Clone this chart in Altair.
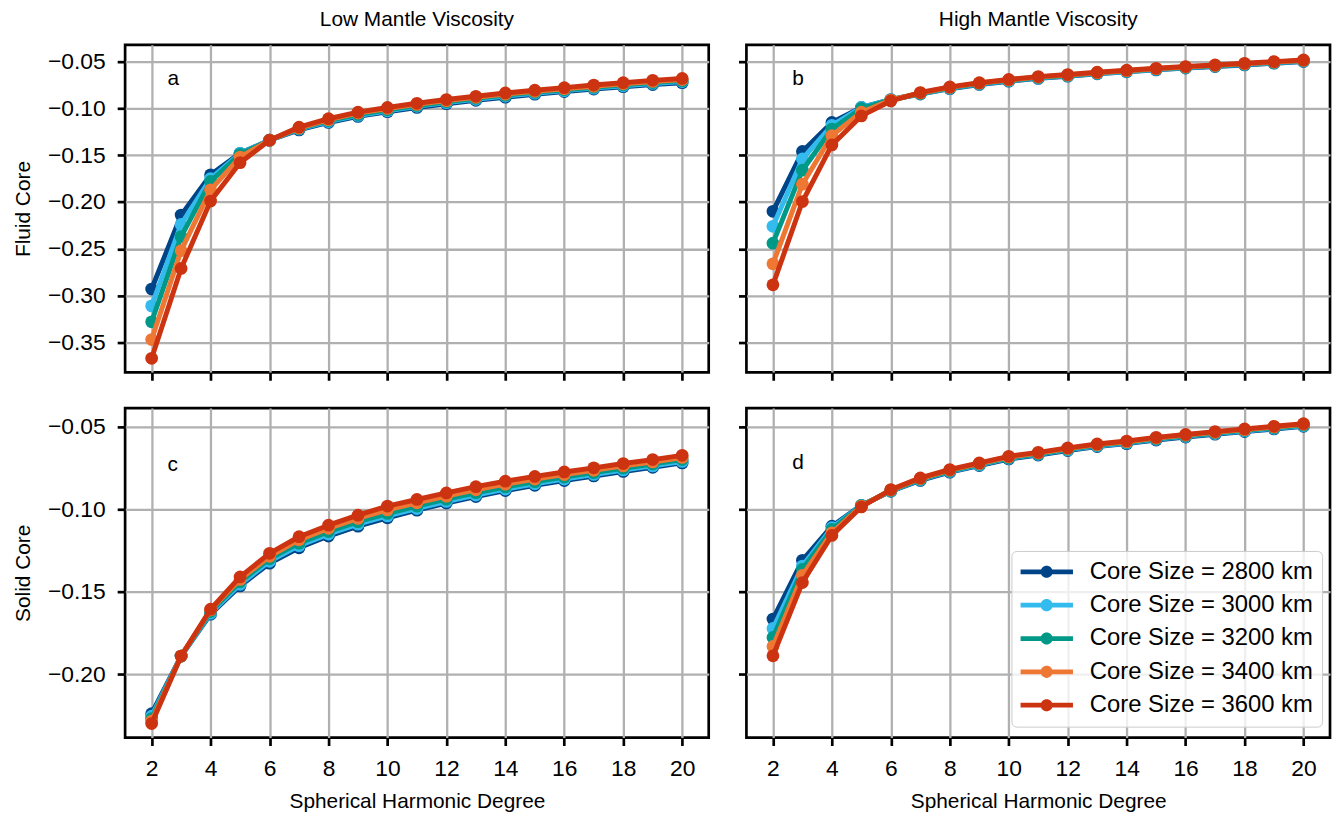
import altair as alt
import pandas as pd

degrees = [2, 3, 4, 5, 6, 7, 8, 9, 10, 11, 12, 13, 14, 15, 16, 17, 18, 19, 20]
x_ticks = [2, 4, 6, 8, 10, 12, 14, 16, 18, 20]
core_labels = ["Core Size = 2800 km", "Core Size = 3000 km", "Core Size = 3200 km",
               "Core Size = 3400 km", "Core Size = 3600 km"]
colors = ["#004488", "#33BBEE", "#009988", "#EE7733", "#CC3311"]

# Panel a: Low mantle viscosity, fluid core
a_2800 = [-0.293, -0.214, -0.171, -0.148, -0.134, -0.123, -0.115, -0.1085, -0.1035, -0.099, -0.095, -0.0913, -0.088, -0.0848, -0.082, -0.0793, -0.0768, -0.0745, -0.0725]
a_3000 = [-0.311, -0.224, -0.175, -0.148, -0.134, -0.122, -0.114, -0.1075, -0.1025, -0.0978, -0.0938, -0.0902, -0.0868, -0.0837, -0.081, -0.0783, -0.0758, -0.0733, -0.0713]
a_3200 = [-0.328, -0.237, -0.178, -0.149, -0.134, -0.1215, -0.113, -0.1065, -0.1015, -0.0968, -0.0928, -0.0892, -0.0858, -0.0827, -0.080, -0.0773, -0.0748, -0.0723, -0.0703]
a_3400 = [-0.347, -0.252, -0.187, -0.152, -0.134, -0.121, -0.112, -0.105, -0.100, -0.0957, -0.0917, -0.0881, -0.0847, -0.0816, -0.0789, -0.0762, -0.0737, -0.0712, -0.0692]
a_3600 = [-0.367, -0.271, -0.199, -0.158, -0.134, -0.120, -0.111, -0.104, -0.099, -0.0945, -0.0905, -0.087, -0.0835, -0.0805, -0.0778, -0.075, -0.0725, -0.070, -0.068]

# Panel b: High mantle viscosity, fluid core
b_2800 = [-0.210, -0.146, -0.115, -0.099, -0.0905, -0.0846, -0.0789, -0.0744, -0.0709, -0.0679, -0.0656, -0.063, -0.0609, -0.0588, -0.0569, -0.0552, -0.0535, -0.0517, -0.0499]
b_3000 = [-0.226, -0.154, -0.118, -0.099, -0.0905, -0.0843, -0.0785, -0.074, -0.0705, -0.0675, -0.0652, -0.0626, -0.0605, -0.0584, -0.0565, -0.0548, -0.0531, -0.0513, -0.0495]
b_3200 = [-0.244, -0.166, -0.122, -0.100, -0.091, -0.084, -0.078, -0.0735, -0.070, -0.067, -0.0648, -0.0622, -0.0601, -0.058, -0.0561, -0.0544, -0.0527, -0.0509, -0.0491]
b_3400 = [-0.266, -0.181, -0.129, -0.104, -0.091, -0.0835, -0.0775, -0.073, -0.0695, -0.0665, -0.0643, -0.0618, -0.0597, -0.0576, -0.0557, -0.054, -0.0523, -0.0505, -0.0487]
b_3600 = [-0.2885, -0.1995, -0.139, -0.108, -0.092, -0.083, -0.077, -0.0725, -0.069, -0.066, -0.0638, -0.0613, -0.0592, -0.0571, -0.0552, -0.0535, -0.0518, -0.050, -0.0482]

# Panel c: Low mantle viscosity, solid core
c_2800 = [-0.224, -0.189, -0.1636, -0.1465, -0.1327, -0.1233, -0.1162, -0.1102, -0.1051, -0.1005, -0.0962, -0.0922, -0.0886, -0.0854, -0.0825, -0.0797, -0.077, -0.0745, -0.0718]
c_3000 = [-0.2255, -0.189, -0.163, -0.1455, -0.1315, -0.122, -0.115, -0.109, -0.104, -0.0995, -0.0952, -0.0913, -0.0877, -0.0845, -0.0816, -0.0788, -0.0761, -0.0736, -0.0709]
c_3200 = [-0.227, -0.189, -0.162, -0.144, -0.130, -0.1205, -0.1135, -0.1075, -0.1025, -0.098, -0.0938, -0.0899, -0.0864, -0.0832, -0.0804, -0.0777, -0.075, -0.0725, -0.0698]
c_3400 = [-0.2285, -0.189, -0.161, -0.1425, -0.1285, -0.1185, -0.1115, -0.1055, -0.1003, -0.096, -0.092, -0.0881, -0.0847, -0.0816, -0.0789, -0.0763, -0.0736, -0.0712, -0.0685]
c_3600 = [-0.230, -0.189, -0.1606, -0.141, -0.1267, -0.1166, -0.1096, -0.1035, -0.098, -0.094, -0.090, -0.0862, -0.0829, -0.080, -0.0773, -0.0748, -0.0722, -0.0698, -0.0672]

# Panel d: High mantle viscosity, solid core
d_2800 = [-0.1666, -0.1309, -0.1102, -0.0975, -0.089, -0.0824, -0.0774, -0.0734, -0.0694, -0.067, -0.0643, -0.0619, -0.0601, -0.0579, -0.0561, -0.0544, -0.0528, -0.0512, -0.0496]
d_3000 = [-0.1723, -0.1344, -0.1111, -0.0976, -0.0888, -0.082, -0.077, -0.073, -0.069, -0.0666, -0.0639, -0.0615, -0.0597, -0.0575, -0.0557, -0.054, -0.0524, -0.0508, -0.0492]
d_3200 = [-0.1777, -0.1364, -0.1122, -0.0978, -0.0886, -0.0817, -0.0766, -0.0726, -0.0686, -0.0662, -0.0635, -0.0611, -0.0593, -0.0571, -0.0553, -0.0536, -0.052, -0.0504, -0.0488]
d_3400 = [-0.1832, -0.140, -0.1142, -0.098, -0.0883, -0.0813, -0.0762, -0.0722, -0.0682, -0.0658, -0.0631, -0.0607, -0.0589, -0.0567, -0.0549, -0.0532, -0.0516, -0.050, -0.0484]
d_3600 = [-0.1889, -0.1444, -0.1158, -0.0985, -0.088, -0.0809, -0.0758, -0.0718, -0.0678, -0.0654, -0.0627, -0.0603, -0.0585, -0.0563, -0.0545, -0.0528, -0.0512, -0.0496, -0.048]

panels = {
    "a": [a_2800, a_3000, a_3200, a_3400, a_3600],
    "b": [b_2800, b_3000, b_3200, b_3400, b_3600],
    "c": [c_2800, c_3000, c_3200, c_3400, c_3600],
    "d": [d_2800, d_3000, d_3200, d_3400, d_3600],
}

rows = []
for pid, series in panels.items():
    for lab, vals in zip(core_labels, series):
        for deg, v in zip(degrees, vals):
            rows.append({"panel": pid, "core": lab, "degree": deg, "value": v})
df = pd.DataFrame(rows)

FONT = "Liberation Sans"
FS_TITLE = 21
FS_TICK = 23
FS_LEG = 24

color_scale = alt.Scale(domain=core_labels, range=colors)

legend_symbol = ("M-1,-0.09L1,-0.09L1,0.09L-1,0.09Z"
                 "M-0.23,0A0.23,0.23 0 1,1 0.23,0A0.23,0.23 0 1,1 -0.23,0Z")

legend_d = alt.Legend(
    orient="none", legendX=267, legendY=144, title=None,
    symbolType=legend_symbol, symbolSize=2809, symbolStrokeWidth=0,
    clipHeight=24, rowPadding=9.6, symbolOffset=0, labelOffset=17,
    labelFontSize=FS_LEG, labelFont=FONT, labelColor="black",
    padding=9, fillColor="rgba(255,255,255,0.8)", strokeColor="#cccccc",
    cornerRadius=5, labelLimit=400,
)


def make_panel(pid, ydom, yticks, letter_pos, top, left, title=None, ytitle=None, legend=None):
    sub = df[df.panel == pid]
    xaxis = alt.Axis(values=x_ticks, labels=not top, format="d",
                     title=None if top else "Spherical Harmonic Degree")
    yaxis = alt.Axis(values=yticks, labels=left, format=".2f",
                     title=ytitle if left else None)
    x = alt.X("degree:Q", scale=alt.Scale(domain=[1.1, 20.9], nice=False, zero=False), axis=xaxis)
    y = alt.Y("value:Q", scale=alt.Scale(domain=ydom, nice=False, zero=False), axis=yaxis)
    layers = []
    for lab in core_labels:
        base = alt.Chart(sub).transform_filter(alt.datum.core == lab)
        col = alt.Color("core:N", scale=color_scale, legend=legend)
        layers.append(base.mark_line(strokeWidth=5, strokeJoin="round").encode(x=x, y=y, color=col))
        layers.append(base.mark_circle(size=165, opacity=1).encode(x=x, y=y, color=col))
    txt = alt.Chart(pd.DataFrame({"t": [pid]})).mark_text(
        fontSize=FS_TITLE, font=FONT, color="black", align="center", baseline="middle"
    ).encode(text="t:N", x=alt.value(letter_pos[0]), y=alt.value(letter_pos[1]))
    layers.append(txt)
    h = 330 if top else 332
    props = dict(width=588, height=h)
    if title:
        props["title"] = alt.TitleParams(title, fontSize=FS_TITLE, font=FONT, fontWeight="normal",
                                         color="black", offset=15)
    return alt.layer(*layers).properties(**props)


top_dom = [-0.382, -0.032]
top_ticks = [-0.35, -0.30, -0.25, -0.20, -0.15, -0.10, -0.05]
bot_dom = [-0.2385, -0.0385]
bot_ticks = [-0.20, -0.15, -0.10, -0.05]

pa = make_panel("a", top_dom, top_ticks, (48.5, 35), True, True, title="Low Mantle Viscosity", ytitle="Fluid Core")
pb = make_panel("b", top_dom, top_ticks, (52, 35), True, False, title="High Mantle Viscosity")
pc = make_panel("c", bot_dom, bot_ticks, (48, 57), False, True, ytitle="Solid Core")
pd_ = make_panel("d", bot_dom, bot_ticks, (52, 55), False, False, legend=legend_d)

res = dict(x="independent", y="independent", color="independent")
row1 = alt.hconcat(pa, pb, spacing=25).resolve_scale(**res)
row2 = alt.hconcat(pc, pd_, spacing=25).resolve_scale(**res)

chart = alt.vconcat(row1, row2, spacing=23).resolve_scale(**res).properties(
    padding={"left": 3, "top": -4, "right": 0, "bottom": 5}
).configure(font=FONT).configure_view(
    stroke="black", strokeWidth=2.7
).configure_axis(
    grid=True, gridColor="#b0b0b0", gridWidth=2.3, domain=False,
    ticks=True, tickColor="black", tickWidth=2.7, tickSize=8,
    labelFontSize=FS_TICK, labelColor="black", labelFont=FONT, labelPadding=12,
    labelFlush=False, labelOverlap=False,
    titleFontSize=FS_TITLE, titleColor="black", titleFont=FONT, titleFontWeight="normal",
).configure_axisX(titlePadding=10).configure_axisY(titlePadding=14)

chart.save("out.html", embed_options={"renderer": "svg", "actions": False})
